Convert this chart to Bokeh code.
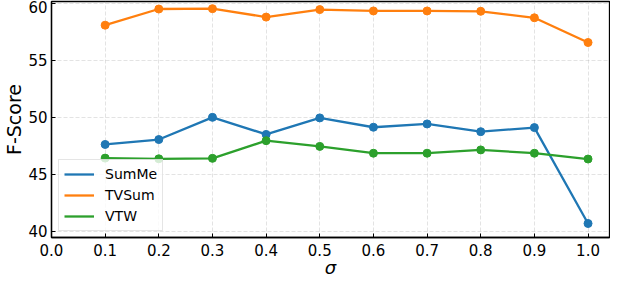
from bokeh.plotting import figure
from bokeh.models import Range1d, FixedTicker, Legend, LegendItem, CustomJSTickFormatter
from bokeh.embed import file_html
from bokeh.resources import INLINE

sigma = [0.1, 0.2, 0.3, 0.4, 0.5, 0.6, 0.7, 0.8, 0.9, 1.0]
summe = [47.62, 48.05, 50.0, 48.5, 49.95, 49.13, 49.42, 48.74, 49.1, 40.68]
tvsum = [58.09, 59.51, 59.54, 58.8, 59.46, 59.34, 59.34, 59.31, 58.74, 56.57]
vtw = [46.42, 46.36, 46.4, 47.95, 47.45, 46.85, 46.85, 47.14, 46.85, 46.34]

x_ticks = [0.0, 0.1, 0.2, 0.3, 0.4, 0.5, 0.6, 0.7, 0.8, 0.9, 1.0]
y_ticks = [40, 45, 50, 55, 60]
x_label = "σ"
y_label = "F-Score"

series = [("SumMe", summe, "#1f77b4"), ("TVSum", tvsum, "#ff7f0e"), ("VTW", vtw, "#2ca02c")]

p = figure(width=610, height=280, output_backend="svg", toolbar_location=None,
           x_range=Range1d(0.0, 1.04), y_range=Range1d(39.45, 60.17),
           min_border_left=47, min_border_right=1, min_border_top=1, min_border_bottom=30)

p.outline_line_color = "black"
p.outline_line_width = 1.3
p.outline_line_alpha = 1.0
p.background_fill_color = "white"

items = []
for name, vals, col in series:
    r = p.line(sigma, vals, line_color=col, line_width=2.3)
    p.scatter(sigma, vals, size=8, fill_color=col, line_color=col)
    items.append(LegendItem(label=name, renderers=[r]))

for ax in (p.xaxis[0], p.yaxis[0]):
    ax.major_tick_in = 4
    ax.major_tick_out = 0
    ax.minor_tick_line_color = None
    ax.axis_line_color = "black"
    ax.axis_line_width = 1.3
    ax.major_label_text_font = "DejaVu Sans"
    ax.major_label_text_font_size = "15px"
    ax.major_label_text_color = "black"
    ax.axis_label_text_font = "DejaVu Sans"
    ax.axis_label_text_font_size = "19px"
    ax.axis_label_text_color = "black"
    ax.axis_label_text_font_style = "normal"

p.xaxis.ticker = FixedTicker(ticks=x_ticks)
p.yaxis.ticker = FixedTicker(ticks=y_ticks)
p.xaxis.formatter = CustomJSTickFormatter(code="return tick.toFixed(1);")
p.xaxis.axis_label = x_label
p.xaxis.axis_label_text_font_style = "italic"
p.xaxis.axis_label_text_font_size = "18px"
p.yaxis.axis_label = y_label
p.xaxis.major_label_standoff = 6
p.yaxis.major_label_standoff = 4
p.xaxis.axis_label_standoff = -2
p.yaxis.axis_label_standoff = 0

for g in (p.xgrid[0], p.ygrid[0]):
    g.grid_line_color = "#b0b0b0"
    g.grid_line_alpha = 0.35
    g.grid_line_dash = "4 2"
    g.grid_line_width = 1

legend = Legend(items=items, location=(7, 6))
legend.label_text_font = "DejaVu Sans"
legend.label_text_font_size = "14px"
legend.label_text_color = "black"
legend.glyph_width = 30
legend.glyph_height = 18
legend.label_standoff = 11
legend.spacing = 3
legend.padding = 5
legend.margin = 0
legend.border_line_color = "#cccccc"
legend.border_line_width = 1
legend.background_fill_alpha = 0.8
p.add_layout(legend)

open("out.html", "w").write(file_html(p, INLINE))
